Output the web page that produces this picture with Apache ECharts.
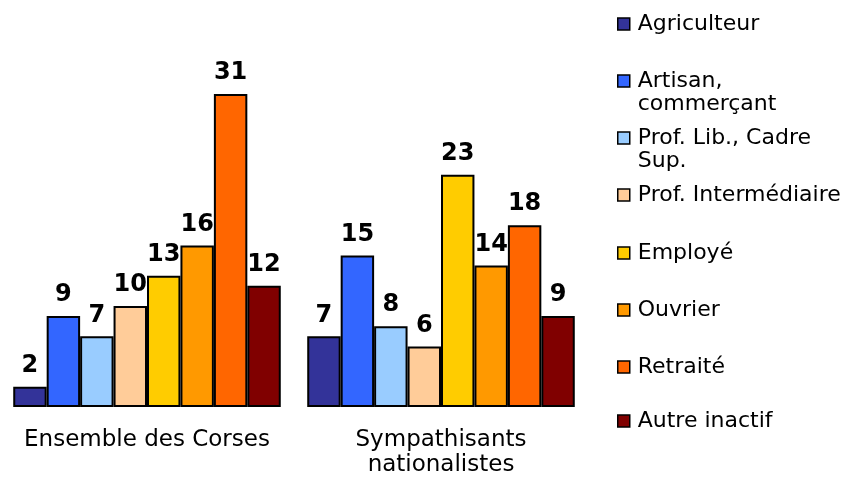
<!DOCTYPE html>
<html>
<head>
<meta charset="utf-8">
<script src="https://cdn.jsdelivr.net/npm/echarts@6/dist/echarts.min.js"></script>
<style>html,body{margin:0;padding:0;background:#fff;}#c{width:864px;height:483px;}</style>
</head>
<body>
<div id="c"></div>
<script>
var categories = ['Ensemble des Corses', 'Sympathisants\nnationalistes'];
var seriesNames = ['Agriculteur', 'Artisan, commerçant', 'Prof. Lib., Cadre Sup.', 'Prof. Intermédiaire', 'Employé', 'Ouvrier', 'Retraité', 'Autre inactif'];
var legendLabels = ['Agriculteur', 'Artisan,\ncommerçant', 'Prof. Lib., Cadre\nSup.', 'Prof. Intermédiaire', 'Employé', 'Ouvrier', 'Retraité', 'Autre inactif'];
var agriculteur = [2, 7];
var artisan = [9, 15];
var profLib = [7, 8];
var profInter = [10, 6];
var employe = [13, 23];
var ouvrier = [16, 14];
var retraite = [31, 18];
var autreInactif = [12, 9];
var seriesValues = [agriculteur, artisan, profLib, profInter, employe, ouvrier, retraite, autreInactif];
var colors = ['#333399', '#3366FF', '#99CCFF', '#FFCC99', '#FFCC00', '#FF9900', '#FF6600', '#800000'];

var FONT = 'DejaVu Sans';
var legendCenters = [24, 81, 138, 195, 253, 310, 367, 421];
var LH = 23;

var series = seriesNames.map(function (n, i) {
  return {
    name: n,
    type: 'bar',
    data: seriesValues[i],
    barGap: '0%',
    barCategoryGap: '9%',
    itemStyle: { color: colors[i], borderColor: '#000', borderWidth: 2 },
    label: {
      show: true, position: 'top', distance: 9,
      fontFamily: FONT, fontSize: 24, fontWeight: 'bold', color: '#000'
    },
    emphasis: { disabled: true }
  };
});

var legends = seriesNames.map(function (n, i) {
  var multi = legendLabels[i].indexOf('\n') >= 0;
  var h = multi ? LH * 3 : LH;
  return {
    orient: 'vertical',
    left: 617,
    top: legendCenters[i] - h / 2,
    padding: 0,
    itemWidth: 12,
    itemHeight: 12,
    itemGap: 9,
    icon: 'rect',
    selectedMode: false,
    data: [n],
    formatter: function () {
      var lines = legendLabels[i].split('\n').map(function (s) { return '{t|' + s + '}'; });
      if (multi) lines.unshift('{t| }');
      return lines.join('\n');
    },
    itemStyle: { borderColor: '#000', borderWidth: 1.5 },
    textStyle: {
      fontFamily: FONT, fontSize: 22, color: '#000', lineHeight: LH,
      rich: { t: { fontFamily: FONT, fontSize: 22, color: '#000', lineHeight: LH, padding: [0, 0, 0, 3] } }
    }
  };
});

var chart = echarts.init(document.getElementById('c'));
chart.setOption({
  animation: false,
  backgroundColor: '#fff',
  legend: legends,
  grid: { left: -2, width: 590, top: 53.5, bottom: 76, containLabel: false },
  xAxis: {
    type: 'category',
    data: categories,
    axisLine: { show: false },
    axisTick: { show: false },
    axisLabel: { fontFamily: FONT, fontSize: 23, color: '#000', margin: 21, lineHeight: 25, interval: 0 }
  },
  yAxis: {
    type: 'value', min: 0, max: 35, show: false,
    splitLine: { show: false }
  },
  series: series
});
</script>
</body>
</html>
